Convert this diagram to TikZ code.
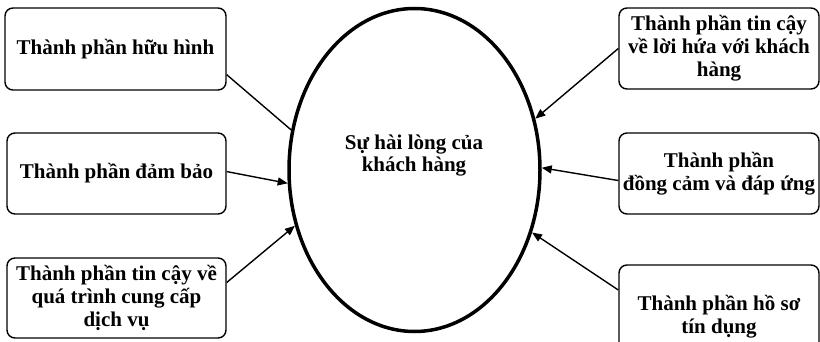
\documentclass[tikz,border=0pt]{standalone}
\usepackage{fontspec}
\setmainfont{Liberation Serif}
\usetikzlibrary{shapes.geometric, arrows.meta}

\begin{document}
\begin{tikzpicture}[x=1pt, y=-1pt,
    box/.style={rectangle, rounded corners=8pt, draw=black, line width=1.4pt, align=center, inner sep=1pt, font=\fontsize{21}{23}\selectfont\bfseries},
    link/.style={line width=1.4pt, -{Triangle[length=10pt, width=8pt]}}
]
    \useasboundingbox (0,0) rectangle (820,342);

    \node[ellipse, draw=black, line width=3.5pt, minimum width=251pt, minimum height=323pt] (sat) at (414.5,170) {};
    \node[align=center, font=\fontsize{21}{22}\selectfont\bfseries] (satlabel) at (414,156) {Sự hài lòng của\\khách hàng};

    \node[box, minimum width=221pt, minimum height=82pt] (tangible) at (115.5,49) {Thành phần hữu hình};
    \node[box, minimum width=219pt, minimum height=81pt] (assurance) at (116.5,173.5) {Thành phần đảm bảo};
    \node[box, minimum width=219pt, minimum height=80pt] (process) at (116.5,298) {Thành phần tin cậy về\\quá trình cung cấp\\dịch vụ};
    \node[box, minimum width=200pt, minimum height=81pt] (promise) at (719,48.5) {Thành phần tin cậy\\về lời hứa với khách\\hàng};
    \node[box, minimum width=200pt, minimum height=81pt] (empathy) at (719,173.5) {Thành phần\\đồng cảm và đáp ứng};
    \node[box, minimum width=200pt, minimum height=104pt] (credit) at (719,317) {Thành phần hồ sơ\\tín dụng};

    \draw[line width=1.4pt] (tangible.-13) -- (sat.162);
    \draw[link] (assurance.1) -- (sat.186);
    \draw[link] (process.8) -- (sat.205);
    \draw[link] (promise.west) -- (sat.23);
    \draw[link] (empathy.184) -- (sat.1);
    \draw[link] (credit.165) -- (sat.332);
\end{tikzpicture}
\end{document}
